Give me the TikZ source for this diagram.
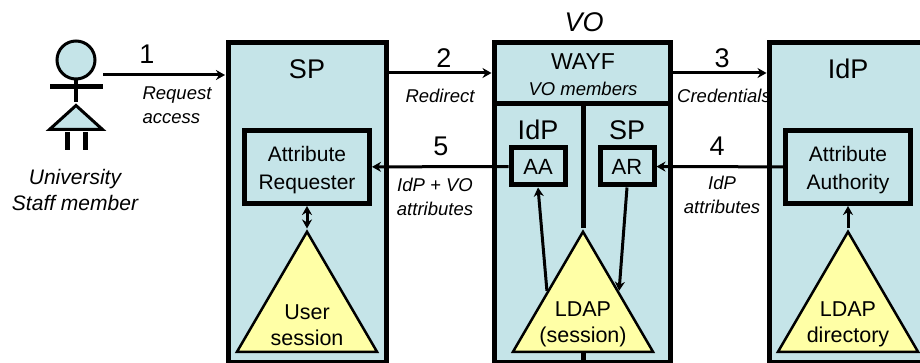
\documentclass[tikz,border=0pt]{standalone}
\usepackage{fontspec}
\setmainfont{Liberation Sans}
\usetikzlibrary{arrows.meta,shapes.geometric}
\definecolor{boxblue}{HTML}{C5E4E8}
\definecolor{triyellow}{HTML}{FFFFA6}
\tikzset{
    wall/.style={rectangle, draw=black, fill=boxblue, line width=5pt, inner sep=0pt},
    innerbox/.style={rectangle, draw=black, fill=boxblue, line width=5pt, inner sep=0pt, font=\fontsize{22}{24}\selectfont},
    store/.style={isosceles triangle, isosceles triangle stretches, shape border rotate=90, anchor=lower side, draw=black, fill=triyellow, line width=2.5pt, inner sep=0pt, minimum width=140pt, minimum height=120pt},
    title/.style={font=\fontsize{27}{28}\selectfont},
    boxtext/.style={font=\fontsize{21}{28}\selectfont, align=center},
    storetext/.style={font=\fontsize{21.5}{26}\selectfont, align=center},
    smalllabel/.style={font=\itshape\fontsize{18.5}{24}\selectfont, align=center},
    flow/.style={line width=3pt, -{Stealth[length=9pt,width=10pt]}},
    limb/.style={line width=3.5pt}
}
\begin{document}
\begin{tikzpicture}[x=1pt,y=-1pt]
    \useasboundingbox (0,0) rectangle (920,363);

    % person
    \node [circle, draw=black, fill=boxblue, line width=3pt, inner sep=0pt, minimum size=38pt] (head) at (76,60) {};
    \node [isosceles triangle, isosceles triangle stretches, shape border rotate=90, anchor=lower side, draw=black, fill=boxblue, line width=3pt, inner sep=0pt, minimum width=53pt, minimum height=24pt] (skirt) at (76,131) {};
    \coordinate (armL) at (50,87);
    \coordinate (armR) at (103,87);
    \coordinate (legLa) at (67,132);
    \coordinate (legLb) at (67,150);
    \coordinate (legRa) at (85,132);
    \coordinate (legRb) at (85,150);
    \draw [limb] (head) -- (skirt.apex);
    \draw [line width=5pt] (armL) -- (armR);
    \draw [line width=5pt] (legLa) -- (legLb);
    \draw [line width=5pt] (legRa) -- (legRb);
    \node [font=\itshape\fontsize{21}{26}\selectfont, align=center] (staff) at (75,190) {University\\Staff member};

    % boxes
    \node [wall, minimum width=158pt, minimum height=319pt] (spbox) at (307,202.5) {};
    \node [wall, minimum width=176pt, minimum height=319pt] (vobox) at (582,202.5) {};
    \node [wall, minimum width=176pt, minimum height=61pt] (wayf) at (582,73.5) {};
    \node [smalllabel] (credlabel) at (724,96) {Credentials};
    \node [wall, minimum width=162pt, minimum height=319pt] (idpbox) at (850,202.5) {};

    \node [innerbox, minimum width=125pt, minimum height=73pt] (attreq) at (307,167) {};
    \node [innerbox, minimum width=125pt, minimum height=73pt] (attauth) at (848,167) {};
    \node [innerbox, minimum width=54pt, minimum height=37pt] (aa) at (538,166.5) {AA};
    \node [innerbox, minimum width=54pt, minimum height=37pt] (ar) at (627,166.5) {AR};

    \node [store] (usertri) at (307,353) {};
    \node [store] (sessiontri) at (583,353) {};
    \node [store] (dirtri) at (848,353) {};

    \coordinate (divbottom) at (583,363);
    \draw [line width=5pt] (wayf.south -| sessiontri.apex) -- (sessiontri.apex);
    \draw [line width=5pt] (sessiontri.lower side) -- (divbottom);

    % titles
    \node [title] (sptitle) at (307,69) {SP};
    \node [title, font=\itshape\fontsize{27}{28}\selectfont] (votitle) at (584,22) {VO};
    \node [title] (idptitle) at (848,69) {IdP};
    \node [font=\fontsize{23}{25}\selectfont] (wayftitle) at (583,62) {WAYF};
    \node [smalllabel] (members) at (583,89) {VO members};
    \node [title] (idpinner) at (538,130) {IdP};
    \node [title] (spinner) at (627,130) {SP};

    \node [boxtext] (attreqtext) at (307,170) {Attribute\\Requester};
    \node [boxtext] (attauthtext) at (848,170) {Attribute\\Authority};
    \node [storetext] (usertext) at (307,325) {User\\session};
    \node [storetext] (sessiontext) at (583,324.5) {LDAP\\(session)};
    \node [storetext] (dirtext) at (848,324.5) {LDAP\\directory};

    % flows
    \coordinate (hand) at (103,75);
    \coordinate (spin) at (225,75);
    \draw [flow] (hand) -- (spin);
    \draw [flow] (spbox.east |- 0,73) -- (vobox.west |- 0,73);
    \draw [flow] (vobox.east |- 0,73) -- (idpbox.west |- 0,73);
    \draw [flow] (aa) -- (attreq);
    \draw [flow] (attauth) -- (ar);
    \draw [flow] (sessiontri.left side) -- (aa.south);
    \draw [flow] (ar.south) -- (sessiontri.right side);
    \draw [line width=3pt, {Stealth[length=9pt,width=10pt]}-{Stealth[length=9pt,width=10pt]}] (attreq) -- (usertri.apex);
    \draw [flow] (dirtri.apex) -- (attauth);

    % step numbers
    \node [title] (one) at (147,54) {1};
    \node [title] (two) at (444,58) {2};
    \node [title] (three) at (722,58) {3};
    \node [title] (four) at (717,146) {4};
    \node [title] (five) at (441,146) {5};

    % step labels
    \node [smalllabel, align=left] (reqlabel) at (177,105) {Request\\access};
    \node [smalllabel] (redirlabel) at (440,96) {Redirect};
    \node [smalllabel] (voattr) at (435,197) {IdP + VO\\attributes};
    \node [smalllabel] (idpattr) at (722,195) {IdP\\attributes};
\end{tikzpicture}
\end{document}
